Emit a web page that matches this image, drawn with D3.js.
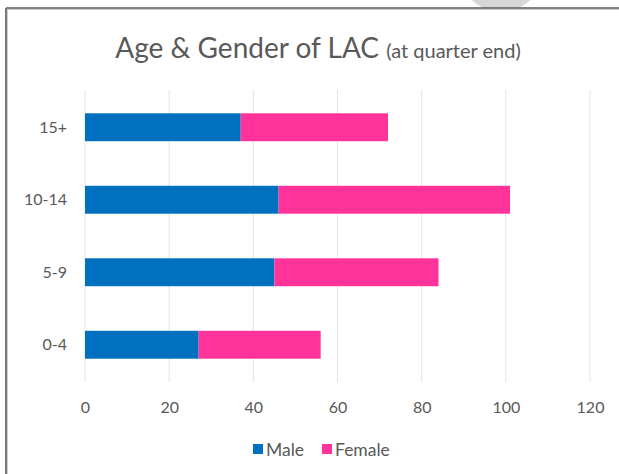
<!DOCTYPE html>
<html>
<head>
<meta charset="utf-8">
<script src="https://cdn.jsdelivr.net/npm/d3@7"></script>
<style>
  html, body { margin: 0; padding: 0; background: #fff; overflow: hidden; }
  svg { display: block; }
  text { font-family: Lato, "Open Sans", "Liberation Sans", sans-serif; fill: #595959; }
</style>
</head>
<body>
<svg id="chart" width="619" height="474"></svg>
<script>
// Age bands, top to bottom as shown
const categories = ["15+", "10-14", "5-9", "0-4"];
const male = [37, 46, 45, 27];
const female = [35, 55, 39, 29];
const seriesNames = ["Male", "Female"];
const colors = ["#0070c0", "#ff3399"];
const tickValues = [0, 20, 40, 60, 80, 100, 120];

const svg = d3.select("#chart");
const W = 619, H = 474;

// window frame
svg.append("rect").attr("x", 0).attr("y", 0).attr("width", W).attr("height", H).attr("fill", "#fff");
svg.append("clipPath").attr("id", "topclip")
  .append("rect").attr("x", 0).attr("y", 0).attr("width", W).attr("height", 8);
svg.append("circle").attr("cx", 501).attr("cy", -30).attr("r", 42)
  .attr("fill", "#d6d6d6").attr("clip-path", "url(#topclip)");
svg.append("line").attr("x1", 6).attr("x2", W).attr("y1", 8).attr("y2", 8)
  .attr("stroke", "#5a5a5a").attr("stroke-width", 1.6);
svg.append("line").attr("x1", 6).attr("x2", W).attr("y1", 9.5).attr("y2", 9.5)
  .attr("stroke", "#c8c8c8").attr("stroke-width", 1);
svg.append("line").attr("x1", 6).attr("x2", 6).attr("y1", 8).attr("y2", H)
  .attr("stroke", "#6a6a6a").attr("stroke-width", 1.8);
svg.append("line").attr("x1", 7.5).attr("x2", 7.5).attr("y1", 9).attr("y2", H)
  .attr("stroke", "#cfcfcf").attr("stroke-width", 1);

// title
const title = svg.append("text").attr("x", 318).attr("y", 58).attr("text-anchor", "middle");
title.append("tspan").attr("font-size", 28).text("Age & Gender  of LAC ");
title.append("tspan").attr("font-size", 20).text("(at quarter end)");

const x = d3.scaleLinear().domain([0, 120]).range([85, 590]);
const y = d3.scaleBand().domain(categories).range([91, 381]).paddingInner(0.615).paddingOuter(0.3075);

// gridlines
svg.append("g").selectAll("line").data(tickValues).join("line")
  .attr("x1", d => x(d)).attr("x2", d => x(d))
  .attr("y1", 90).attr("y2", 382)
  .attr("stroke", "#e3e3e3").attr("stroke-width", 1);

// x axis labels
const xAxis = d3.axisBottom(x).tickValues(tickValues).tickSize(0).tickPadding(0);
const gx = svg.append("g").attr("transform", "translate(0,413)").call(xAxis);
gx.select(".domain").remove();
gx.selectAll("text").attr("font-size", 16).attr("fill", "#5e5e5e")
  .attr("font-family", "Lato, 'Open Sans', sans-serif").attr("dy", 0);

// y axis labels
const yAxis = d3.axisLeft(y).tickSize(0).tickPadding(0);
const gy = svg.append("g").attr("transform", "translate(67,0)").call(yAxis);
gy.select(".domain").remove();
gy.selectAll("text").attr("font-size", 16).attr("fill", "#5e5e5e")
  .attr("font-family", "Lato, 'Open Sans', sans-serif").attr("dy", "0.35em");

// stacked bars
const rows = categories.map((c, i) => ({ cat: c, Male: male[i], Female: female[i] }));
const stacked = d3.stack().keys(seriesNames)(rows);
svg.append("g").selectAll("g").data(stacked).join("g")
  .attr("fill", (d, i) => colors[i])
  .selectAll("rect").data(d => d).join("rect")
  .attr("x", d => x(d[0]))
  .attr("width", d => x(d[1]) - x(d[0]))
  .attr("y", d => y(d.data.cat))
  .attr("height", y.bandwidth());

// legend
const legendItems = [{ name: "Male", sq: 253, tx: 266 }, { name: "Female", sq: 322, tx: 335 }];
const lg = svg.append("g");
legendItems.forEach((it, i) => {
  lg.append("rect").attr("x", it.sq).attr("y", 444).attr("width", 10).attr("height", 10).attr("fill", colors[i]);
  lg.append("text").attr("x", it.tx).attr("y", 455.5).attr("font-size", 17.5).text(it.name);
});
</script>
</body>
</html>
